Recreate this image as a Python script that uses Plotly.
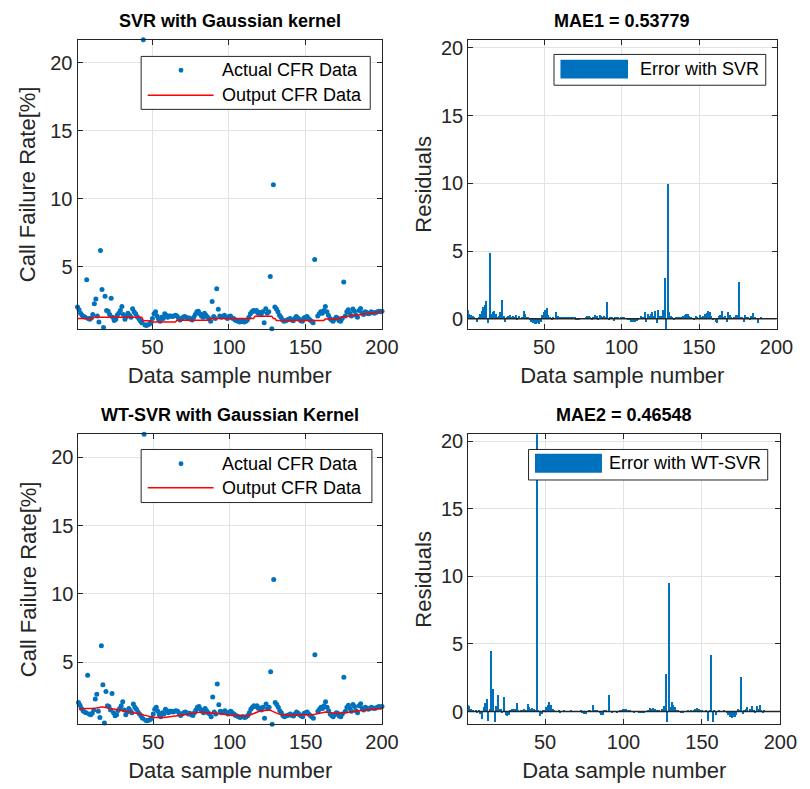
import plotly.graph_objects as go

# ---------------- data ----------------
samples = list(range(1, 201))

actual_cfr = [
    2.05, 1.85, 1.6, 1.45, 1.35, 1.3, 4.05, 1.2, 1.15, 1.25,
    1.5, 2.3, 2.65, 1.4, 0.95, 6.2, 3.35, 0.55, 2.85, 1.8,
    1.75, 1.5, 2.7, 1.3, 1.07, 1.15, 1.46, 1.6, 1.8, 2.1,
    1.5, 1.15, 1.35, 1.6, 1.45, 1.3, 1.93, 1.7, 1.55, 1.35,
    1.2, 1.05, 0.9, 21.7, 0.75, 0.7, 0.75, 0.8, 0.9, 1.2,
    1.56, 1.7, 1.4, 1.15, 1.0, 1.3, 1.2, 1.55, 1.45, 1.3,
    1.4, 1.4, 1.35, 1.4, 1.45, 1.4, 1.25, 1.1, 1.2, 1.3,
    1.35, 1.3, 1.2, 1.25, 1.15, 1.1, 1.3, 1.5, 1.7, 1.75,
    1.55, 1.4, 1.3, 1.6, 1.45, 1.3, 1.2, 1.0, 2.45, 1.35,
    1.2, 3.4, 1.88, 1.4, 1.3, 1.35, 1.45, 1.3, 1.2, 1.35,
    1.4, 1.25, 1.2, 1.1, 1.05, 1.0, 0.95, 1.0, 1.0, 0.95,
    1.0, 1.1, 1.3, 1.56, 1.7, 1.8, 1.75, 1.8, 1.6, 1.65,
    1.5, 1.7, 0.9, 1.93, 1.6, 1.7, 4.3, 0.45, 11.05, 2.05,
    1.9, 1.7, 1.45, 1.3, 1.1, 1.0, 1.05, 1.1, 1.15, 1.2,
    1.1, 1.05, 1.2, 1.35, 1.25, 1.15, 1.05, 1.0, 1.25, 1.3,
    1.35, 1.2, 1.1, 1.0, 0.9, 5.55, 0.4, 1.4, 1.55, 1.7,
    1.6, 1.8, 2.1, 1.7, 1.45, 1.2, 1.1, 1.0, 1.15, 1.3,
    1.25, 1.05, 1.0, 1.2, 3.9, 1.4, 1.7, 1.85, 1.6, 1.4,
    1.9, 1.75, 1.45, 1.3, 1.8, 1.95, 1.6, 1.5, 1.7, 1.65,
    1.55, 1.6, 1.7, 1.65, 1.6, 1.65, 1.7, 1.75, 1.7, 1.75,
]

svr_output = [
    1.20, 1.20, 1.20, 1.20, 1.20, 1.20, 1.20, 1.20, 1.20, 1.20,
    1.20, 1.30, 1.30, 1.30, 1.30, 1.30, 1.30, 1.30, 1.30, 1.30,
    1.30, 1.30, 1.30, 1.30, 1.30, 1.30, 1.30, 1.30, 1.30, 1.30,
    1.30, 1.30, 1.30, 1.30, 1.30, 1.30, 1.30, 1.30, 1.30, 1.30,
    1.30, 1.30, 1.30, 1.05, 1.05, 1.05, 1.05, 1.05, 1.05, 0.95,
    0.95, 0.95, 0.95, 0.95, 0.95, 0.95, 0.95, 0.95, 0.95, 0.95,
    0.95, 0.95, 0.95, 0.95, 0.95, 1.08, 1.08, 1.08, 1.08, 1.08,
    1.08, 1.08, 1.08, 1.08, 1.08, 1.08, 1.08, 1.08, 1.08, 1.08,
    1.08, 1.08, 1.08, 1.08, 1.08, 1.08, 1.08, 1.20, 1.20, 1.20,
    1.20, 1.20, 1.20, 1.20, 1.20, 1.20, 1.20, 1.20, 1.20, 1.20,
    1.20, 1.20, 1.20, 1.20, 1.20, 1.20, 1.20, 1.20, 1.20, 1.20,
    1.20, 1.20, 1.20, 1.20, 1.20, 1.20, 1.38, 1.38, 1.38, 1.38,
    1.38, 1.38, 1.38, 1.38, 1.38, 1.38, 1.38, 1.38, 1.20, 1.20,
    1.07, 1.07, 1.07, 1.07, 1.07, 1.07, 1.07, 1.07, 1.07, 1.07,
    1.07, 1.07, 1.07, 1.07, 1.07, 1.07, 1.07, 1.07, 1.07, 1.07,
    1.07, 1.07, 1.07, 1.07, 1.07, 1.07, 1.07, 1.07, 1.07, 1.07,
    1.07, 1.07, 1.18, 1.18, 1.18, 1.18, 1.18, 1.18, 1.18, 1.18,
    1.18, 1.18, 1.30, 1.32, 1.33, 1.35, 1.36, 1.38, 1.39, 1.41,
    1.42, 1.44, 1.45, 1.47, 1.48, 1.50, 1.51, 1.53, 1.54, 1.56,
    1.57, 1.59, 1.60, 1.62, 1.63, 1.65, 1.66, 1.68, 1.70, 1.72,
]

wt_svr_output = [
    1.59, 1.59, 1.59, 1.59, 1.60, 1.60, 1.60, 1.59, 1.59, 1.59,
    1.59, 1.62, 1.65, 1.68, 1.71, 1.72, 1.71, 1.69, 1.67, 1.65,
    1.63, 1.61, 1.59, 1.56, 1.54, 1.52, 1.50, 1.48, 1.46, 1.44,
    1.43, 1.41, 1.39, 1.37, 1.35, 1.33, 1.31, 1.29, 1.27, 1.25,
    1.23, 1.19, 1.16, 1.12, 1.09, 1.05, 1.02, 0.99, 0.97, 0.96,
    0.95, 0.94, 0.93, 0.92, 0.93, 0.94, 0.95, 0.96, 0.97, 0.98,
    0.99, 0.99, 1.01, 1.03, 1.05, 1.07, 1.09, 1.11, 1.13, 1.14,
    1.16, 1.18, 1.20, 1.22, 1.24, 1.26, 1.28, 1.30, 1.33, 1.35,
    1.34, 1.34, 1.33, 1.33, 1.32, 1.31, 1.31, 1.30, 1.29, 1.28,
    1.27, 1.27, 1.26, 1.25, 1.24, 1.23, 1.20, 1.17, 1.14, 1.11,
    1.11, 1.10, 1.10, 1.09, 1.09, 1.08, 1.08, 1.07, 1.07, 1.06,
    1.06, 1.06, 1.11, 1.16, 1.21, 1.26, 1.31, 1.36, 1.40, 1.42,
    1.44, 1.46, 1.47, 1.47, 1.47, 1.47, 1.47, 1.41, 1.35, 1.29,
    1.23, 1.21, 1.18, 1.16, 1.13, 1.11, 1.11, 1.11, 1.11, 1.11,
    1.11, 1.11, 1.11, 1.11, 1.11, 1.11, 1.12, 1.12, 1.13, 1.13,
    1.14, 1.14, 1.15, 1.15, 1.16, 1.18, 1.21, 1.23, 1.26, 1.28,
    1.30, 1.33, 1.35, 1.34, 1.32, 1.31, 1.29, 1.28, 1.27, 1.25,
    1.24, 1.23, 1.25, 1.27, 1.29, 1.31, 1.33, 1.36, 1.38, 1.40,
    1.41, 1.42, 1.42, 1.43, 1.44, 1.45, 1.45, 1.46, 1.47, 1.48,
    1.49, 1.50, 1.52, 1.53, 1.55, 1.56, 1.58, 1.59, 1.61, 1.62,
]

svr_residuals = [
    0.7, 0.4, 0.3, 0.2, 0.1, 0.0, -0.2, 0.1, 0.35, 0.6,
    0.9, 1.05, 1.3, -0.3, 4.9, 0.4, 0.5, 0.6, 0.35, 0.1,
    0.2, 0.5, 1.4, 0.2, -0.2, 0.1, 0.25, 0.3, 0.1, 0.2,
    0.1, 0.3, -0.1, 0.2, 0.05, 0.1, 0.6, 0.35, 0.1, 0.1,
    -0.05, -0.2, -0.3, -0.35, -0.4, -0.3, -0.35, -0.2, 0.3, 0.55,
    0.7, 0.8, 0.3, 0.1, -0.1, 0.1, 0.0, 0.5, 0.2, 0.1,
    0.15, 0.1, 0.1, 0.1, 0.15, 0.1, 0.1, 0.15, 0.15, 0.1,
    -0.05, -0.1, -0.1, 0.0, 0.05, 0.05, 0.1, 0.2, 0.25, 0.1,
    -0.1, 0.1, 0.3, 0.25, -0.1, 0.3, 0.2, 0.1, 0.2, 0.1,
    1.25, -0.1, 0.1, 0.15, -0.15, 0.1, 0.15, 0.1, 0.05, 0.1,
    0.1, 0.1, 0.05, -0.05, -0.1, -0.2, -0.25, -0.25, -0.2, -0.15,
    -0.1, 0.05, 0.2, 0.1, 0.5, -0.2, 0.4, 0.2, 0.35, 0.5,
    0.2, 0.6, -0.3, 0.7, 0.2, 0.2, 0.7, 3.0, -0.9, 9.95,
    0.55, 0.2, 0.1, -0.1, 0.1, 0.15, 0.1, 0.1, 0.15, 0.2,
    0.3, 0.4, 0.35, 0.2, 0.1, 0.05, -0.05, 0.2, 0.1, 0.05,
    0.3, 0.1, 0.2, 0.4, 0.45, 0.6, 0.5, 0.2, -0.1, 0.05,
    -0.2, -0.3, 0.2, 0.3, 0.6, 0.1, 0.2, -0.2, 0.5, 0.3,
    0.1, 0.0, 0.1, 0.3, 0.3, 2.7, 0.1, 0.1, -0.2, 0.3,
    0.15, 0.1, -0.1, 0.25, 0.45, 0.1, 0.05, -0.3, 0.05, 0.1,
    0.05, 0.0, 0.05, 0.0, 0.0, 0.0, 0.0, 0.0, 0.0, 0.0,
]

wt_svr_residuals = [
    0.45, 0.4, 0.2, 0.05, -0.05, 0.1, -0.1, 0.05, -0.2, -0.55,
    0.3, 0.6, 0.9, -0.7, 0.2, 4.45, 1.64, -0.8, 0.4, 1.2,
    0.2, 0.17, -0.1, 1.03, -0.3, -0.35, -0.25, 0.1, 0.17, 0.2,
    0.15, 0.6, 0.1, -0.05, 0.1, 0.05, 0.2, 0.1, 0.54, 0.3,
    0.2, 0.25, 0.2, 0.1, 21.0, 0.1, -0.37, -0.2, 0.05, 0.1,
    0.3, 0.5, 0.66, 0.5, 0.2, 0.1, -0.05, 0.0, 0.05, -0.1,
    0.0, 0.05, 0.0, -0.05, 0.0, 0.0, 0.05, 0.0, 0.0, -0.05,
    -0.05, 0.0, 0.05, -0.1, -0.2, -0.2, 0.0, 0.05, 0.1, 0.0,
    0.46, 0.1, 0.05, 0.0, -0.1, -0.27, -0.3, 0.1, 0.05, 0.0,
    1.2, 0.0, -0.1, 0.0, -0.05, -0.15, 0.0, 0.05, 0.1, 0.17,
    0.17, 0.15, 0.1, 0.05, 0.0, -0.05, -0.1, -0.05, 0.0, -0.1,
    -0.15, -0.15, -0.1, -0.05, 0.0, 0.1, 0.22, 0.2, 0.22, 0.15,
    0.1, 0.05, 0.1, 0.0, 0.2, 0.4, 2.75, -0.8, 9.5, 0.3,
    0.66, 0.5, 0.3, 0.1, 0.05, 0.0, -0.1, -0.1, 0.0, 0.0,
    0.05, 0.0, 0.05, 0.0, 0.1, 0.2, 0.22, 0.2, 0.1, 0.05,
    0.0, -0.05, 0.1, -0.7, 0.1, 4.15, -0.8, 0.1, -0.27, 0.0,
    0.05, 0.0, 0.0, 0.05, 0.0, -0.1, -0.3, -0.45, -0.5, -0.45,
    -0.4, -0.3, 0.2, 0.1, 2.55, -0.2, 0.1, 0.15, 0.3, 0.0,
    0.2, 0.4, 0.1, -0.1, 0.4, 0.2, 0.45, 0.1, -0.1, 0.05,
    0.0, 0.0, 0.0, 0.0, 0.0, 0.0, 0.0, 0.0, 0.0, 0.0,
]

x_ticks = [50, 100, 150, 200]
cfr_ticks = [5, 10, 15, 20]
res_ticks = [0, 5, 10, 15, 20]

titles = ["SVR with Gaussian kernel", "MAE1 = 0.53779",
          "WT-SVR with Gaussian Kernel", "MAE2 = 0.46548"]
legend_texts = ["Actual CFR Data", "Output CFR Data", "Error with SVR", "Error with WT-SVR"]

# ---------------- style ----------------
# the page places the figure 8px below the window top
OFFX, OFFY = 0, 8
W, H = 810, 781
FONT = "Liberation Sans, Arial, Helvetica, sans-serif"
BLUE = "#0072BD"
RED = "#FF0000"
AX = "#262626"
GRID = "#e3e3e3"


def px(v):
    return (v - OFFX) / W


def py(v):
    return 1 - (v - OFFY) / H


fig = go.Figure()

fig.add_trace(go.Scatter(x=samples, y=actual_cfr, mode="markers", name=legend_texts[0],
                         marker=dict(color=BLUE, size=5), cliponaxis=False,
                         xaxis="x", yaxis="y", showlegend=False))
fig.add_trace(go.Scatter(x=samples, y=svr_output, mode="lines", name=legend_texts[1],
                         line=dict(color=RED, width=1.5), xaxis="x", yaxis="y", showlegend=False))
fig.add_trace(go.Bar(x=samples, y=svr_residuals, name=legend_texts[2], width=0.8,
                     marker=dict(color=BLUE, line=dict(width=0)),
                     xaxis="x2", yaxis="y2", showlegend=False))
fig.add_trace(go.Scatter(x=samples, y=actual_cfr, mode="markers", name=legend_texts[0],
                         marker=dict(color=BLUE, size=5), cliponaxis=False,
                         xaxis="x3", yaxis="y3", showlegend=False))
fig.add_trace(go.Scatter(x=samples, y=wt_svr_output, mode="lines", name=legend_texts[1],
                         line=dict(color=RED, width=1.5), xaxis="x3", yaxis="y3", showlegend=False))
fig.add_trace(go.Bar(x=samples, y=wt_svr_residuals, name=legend_texts[3], width=0.8,
                     marker=dict(color=BLUE, line=dict(width=0)),
                     xaxis="x4", yaxis="y4", showlegend=False))

common = dict(showline=True, linecolor=AX, linewidth=1, mirror="ticks", ticks="inside",
              ticklen=5, tickcolor=AX, tickwidth=1, showgrid=True, gridcolor=GRID, gridwidth=1,
              zeroline=False, tickfont=dict(family=FONT, size=20, color=AX))
xlab = dict(text="Data sample number", font=dict(family=FONT, size=22, color=AX), standoff=10)


def ylab(text, standoff):
    return dict(text=text, font=dict(family=FONT, size=22, color=AX), standoff=standoff)


fig.update_layout(
    width=W, height=H, margin=dict(l=0, r=0, t=0, b=0),
    paper_bgcolor="white", plot_bgcolor="white", bargap=0,
    xaxis=dict(domain=[px(71), px(382)], range=[1, 200], tickvals=x_ticks, anchor="y",
               title=xlab, **common),
    yaxis=dict(domain=[py(327), py(36)], range=[0.44, 21.7], tickvals=cfr_ticks, anchor="x",
               title=ylab("Call Failure Rate[%]", 8), **common),
    xaxis2=dict(domain=[px(470), px(785)], range=[1, 200], tickvals=x_ticks, anchor="y2",
                title=xlab, **common),
    yaxis2=dict(domain=[py(327), py(36)], range=[-0.75, 20.6], tickvals=res_ticks, anchor="x2",
                title=ylab("Residuals", 3), **common),
    xaxis3=dict(domain=[px(72), px(382)], range=[1, 200], tickvals=x_ticks, anchor="y3",
                title=xlab, **common),
    yaxis3=dict(domain=[py(725), py(433)], range=[0.44, 21.7], tickvals=cfr_ticks, anchor="x3",
                title=ylab("Call Failure Rate[%]", 8), **common),
    xaxis4=dict(domain=[px(470), px(789)], range=[1, 200], tickvals=x_ticks, anchor="y4",
                title=xlab, **common),
    yaxis4=dict(domain=[py(725), py(433)], range=[-0.95, 20.5], tickvals=res_ticks, anchor="x4",
                title=ylab("Residuals", 3), **common),
)

# titles
title_pos = [(226.5, 17), (627.5, 17), (226.5, 414), (629.5, 414)]
for t, (tx, ty) in zip(titles, title_pos):
    fig.add_annotation(x=px(tx), y=py(ty), xref="paper", yref="paper", text="<b>%s</b>" % t,
                       showarrow=False, xanchor="center", yanchor="middle",
                       font=dict(family=FONT, size=18, color="#000000"))

# zero baselines of the bar plots
for xa, ya in (("x2", "y2"), ("x4", "y4")):
    fig.add_shape(type="line", xref="%s domain" % xa, yref=ya, x0=0, x1=1, y0=0, y1=0,
                  line=dict(color=AX, width=1.5))

shapes_box = dict(color=AX, width=1)
lfont = dict(family=FONT, size=18, color="#000000")


def scatter_legend(x0, x1, y0, y1, r1, r2):
    fig.add_shape(type="rect", xref="paper", yref="paper", x0=px(x0), x1=px(x1), y0=py(y1), y1=py(y0),
                  line=shapes_box, fillcolor="white", layer="above")
    cx = 176.7
    fig.add_shape(type="circle", xref="paper", yref="paper", x0=px(cx - 2.5), x1=px(cx + 2.5),
                  y0=py(r1 + 2.5), y1=py(r1 - 2.5), line=dict(width=0), fillcolor=BLUE, layer="above")
    fig.add_shape(type="line", xref="paper", yref="paper", x0=px(142.7), x1=px(210), y0=py(r2), y1=py(r2),
                  line=dict(color=RED, width=1.5), layer="above")
    fig.add_annotation(x=px(217), y=py(r1), xref="paper", yref="paper", text=legend_texts[0],
                       showarrow=False, xanchor="left", yanchor="middle", font=lfont)
    fig.add_annotation(x=px(217), y=py(r2), xref="paper", yref="paper", text=legend_texts[1],
                       showarrow=False, xanchor="left", yanchor="middle", font=lfont)


def bar_legend(x0, x1, y0, y1, rx0, rx1, ry0, ry1, tx, text):
    fig.add_shape(type="rect", xref="paper", yref="paper", x0=px(x0), x1=px(x1), y0=py(y1), y1=py(y0),
                  line=shapes_box, fillcolor="white", layer="above")
    fig.add_shape(type="rect", xref="paper", yref="paper", x0=px(rx0), x1=px(rx1), y0=py(ry1), y1=py(ry0),
                  line=dict(width=0), fillcolor=BLUE, layer="above")
    fig.add_annotation(x=px(tx), y=py((ry0 + ry1) / 2), xref="paper", yref="paper", text=text,
                       showarrow=False, xanchor="left", yanchor="middle", font=lfont)


scatter_legend(136, 370, 52.7, 106, 66.7, 91.7)
scatter_legend(136, 371.7, 448.3, 501.7, 462.7, 486.7)
bar_legend(557.7, 774, 50.7, 81.7, 564.3, 633.3, 56, 75, 643, legend_texts[2])
bar_legend(531.7, 776, 448.3, 479, 538.3, 606.7, 452.7, 471.7, 612, legend_texts[3])

fig.write_html("out.html")
